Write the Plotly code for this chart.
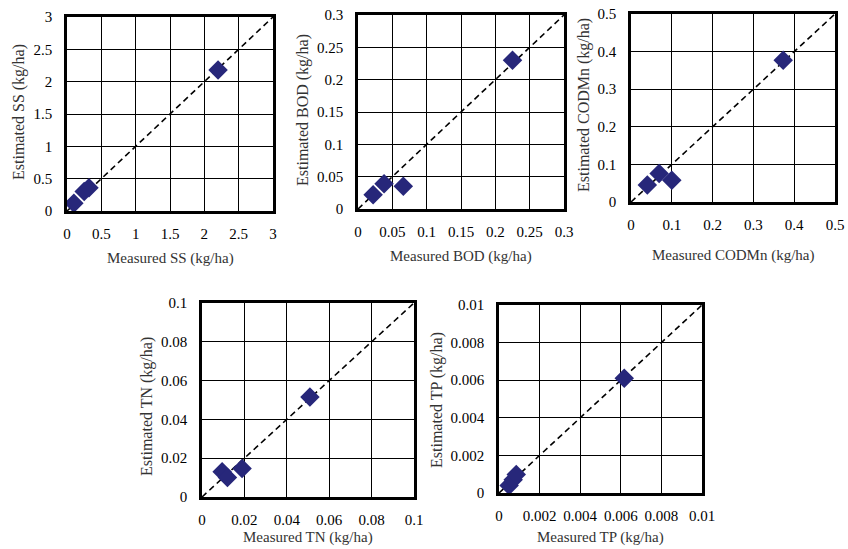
import plotly.graph_objects as go

# ---- data ----
ss_measured = [0.10, 0.25, 0.32, 2.20]
ss_estimated = [0.12, 0.30, 0.36, 2.18]

bod_measured = [0.022, 0.038, 0.066, 0.225]
bod_estimated = [0.022, 0.039, 0.035, 0.230]

cod_measured = [0.040, 0.069, 0.100, 0.373]
cod_estimated = [0.045, 0.076, 0.058, 0.377]

tn_measured = [0.0095, 0.0120, 0.0189, 0.0509]
tn_estimated = [0.0130, 0.0100, 0.0147, 0.0515]

tp_measured = [0.00050, 0.00070, 0.00085, 0.00617]
tp_estimated = [0.00040, 0.00070, 0.00098, 0.00610]

ss_ticks = [0, 0.5, 1, 1.5, 2, 2.5, 3]
bod_ticks = [0, 0.05, 0.1, 0.15, 0.2, 0.25, 0.3]
cod_ticks = [0, 0.1, 0.2, 0.3, 0.4, 0.5]
tn_ticks = [0, 0.02, 0.04, 0.06, 0.08, 0.1]
tp_ticks = [0, 0.002, 0.004, 0.006, 0.008, 0.01]

W, H = 848, 549
FONT = "Liberation Serif, Times New Roman, serif"
MARK = "#27277a"
TITLE_COLOR = "#333333"

# panel pixel boxes: left, right, top, bottom
panels = [
    dict(name="SS", mx=ss_measured, ey=ss_estimated, ticks=ss_ticks, box=(67, 273, 17, 211),
         xt="Measured SS (kg/ha)", yt="Estimated SS (kg/ha)", xty=258, ytx=19, yty=112),
    dict(name="BOD", mx=bod_measured, ey=bod_estimated, ticks=bod_ticks, box=(358, 564, 15, 209),
         xt="Measured BOD (kg/ha)", yt="Estimated BOD (kg/ha)", xty=257, ytx=303, yty=110),
    dict(name="CODMn", mx=cod_measured, ey=cod_estimated, ticks=cod_ticks, box=(631, 835, 14, 202),
         xt="Measured CODMn (kg/ha)", yt="Estimated CODMn (kg/ha)", xty=255, ytx=584, yty=105),
    dict(name="TN", mx=tn_measured, ey=tn_estimated, ticks=tn_ticks, box=(202, 414, 303, 497),
         xt="Measured TN (kg/ha)", yt="Estimated TN (kg/ha)", xty=537, ytx=147, yty=407),
    dict(name="TP", mx=tp_measured, ey=tp_estimated, ticks=tp_ticks, box=(499, 702, 305, 493),
         xt="Measured TP (kg/ha)", yt="Estimated TP (kg/ha)", xty=537, ytx=437, yty=400),
]

fig = go.Figure()
layout = {}
annotations = []
for i, p in enumerate(panels):
    n = "" if i == 0 else str(i + 1)
    xa, ya = "x" + n, "y" + n
    l, r, t, b = p["box"]
    top = p["ticks"][-1]
    fig.add_trace(go.Scatter(x=[0, top], y=[0, top], xaxis=xa, yaxis=ya, mode="lines",
                             line=dict(color="black", width=1.6, dash="6px,4px"),
                             showlegend=False, hoverinfo="skip", cliponaxis=False))
    fig.add_trace(go.Scatter(x=p["mx"], y=p["ey"], xaxis=xa, yaxis=ya, mode="markers",
                             marker=dict(symbol="diamond", size=15, color=MARK),
                             showlegend=False, cliponaxis=False, name=p["name"]))
    common = dict(range=[0, top], tickvals=p["ticks"], ticktext=[f"{v:g}" for v in p["ticks"]],
                  showgrid=True, gridcolor="black", gridwidth=1,
                  zeroline=False, showline=True, linecolor="black", linewidth=2.5, mirror=True,
                  ticks="", automargin=False, ticklabeloverflow="allow",
                  tickfont=dict(family=FONT, size=15, color="black"), fixedrange=True)
    layout["xaxis" + n] = dict(common, domain=[l / W, r / W], anchor=ya, ticklabelstandoff=7)
    layout["yaxis" + n] = dict(common, domain=[1 - b / H, 1 - t / H], anchor=xa, ticklabelstandoff=9)
    annotations.append(dict(text=p["xt"], x=(l + r) / 2 / W, y=1 - p["xty"] / H,
                            xref="paper", yref="paper", showarrow=False,
                            xanchor="center", yanchor="middle",
                            font=dict(family=FONT, size=15, color=TITLE_COLOR)))
    annotations.append(dict(text=p["yt"], x=p["ytx"] / W, y=1 - p["yty"] / H,
                            xref="paper", yref="paper", showarrow=False,
                            xanchor="center", yanchor="middle", textangle=-90,
                            font=dict(family=FONT, size=16, color=TITLE_COLOR)))

fig.update_layout(width=W, height=H, margin=dict(l=0, r=0, t=0, b=0),
                  paper_bgcolor="white", plot_bgcolor="white", template="none",
                  hovermode=False, annotations=annotations, **layout)
fig.write_html("out.html", config={"displayModeBar": False},
               post_script="document.body.style.margin='0';document.body.style.overflow='hidden';")
